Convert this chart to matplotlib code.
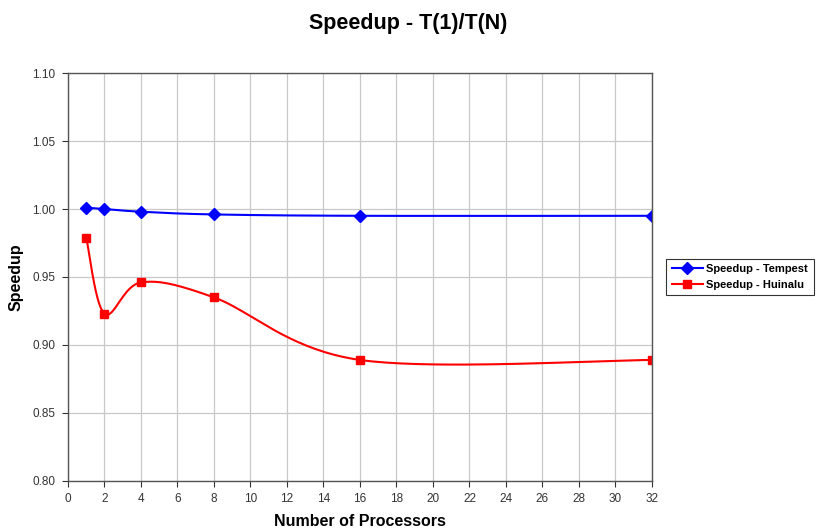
import numpy as np
import matplotlib
matplotlib.use("Agg")
import matplotlib.pyplot as plt

plt.rcParams["font.family"] = ["Liberation Sans", "DejaVu Sans"]

processors = [1, 2, 4, 8, 16, 32]
speedup_tempest = [1.001, 1.000, 0.998, 0.996, 0.995, 0.995]
speedup_huinalu = [0.979, 0.923, 0.946, 0.935, 0.889, 0.889]


def excel_smooth(xs, ys, n=40):
    # Excel-style smoothed line: cubic Bezier with 1/6 tangents
    xs = np.asarray(xs, float)
    ys = np.asarray(ys, float)
    pts = np.column_stack([xs, ys])
    out = [pts[0]]
    for i in range(len(pts) - 1):
        p0 = pts[i - 1] if i > 0 else pts[i]
        p1 = pts[i]
        p2 = pts[i + 1]
        p3 = pts[i + 2] if i + 2 < len(pts) else pts[i + 1]
        c1 = p1 + (p2 - p0) / 6
        c2 = p2 - (p3 - p1) / 6
        t = np.linspace(0, 1, n)[1:, None]
        seg = ((1 - t) ** 3) * p1 + 3 * ((1 - t) ** 2) * t * c1 \
            + 3 * (1 - t) * t ** 2 * c2 + t ** 3 * p2
        out.extend(seg)
    out = np.array(out)
    return out[:, 0], out[:, 1]


fig = plt.figure(figsize=(8.16, 5.31), dpi=100)
ax = fig.add_axes([0.0833, 0.0942, 0.7157, 0.7683])

for ys, color, marker, ms, label in [
    (speedup_tempest, "#0000ff", "D", 6, "Speedup - Tempest"),
    (speedup_huinalu, "#ff0000", "s", 6, "Speedup - Huinalu"),
]:
    sx, sy = excel_smooth(processors, ys)
    ax.plot(sx, sy, color=color, lw=1.5)
    ax.plot(processors, ys, ls="none", marker=marker, ms=ms, color=color)
    ax.plot([], [], color=color, lw=1.5, marker=marker, ms=ms, label=label)

ax.set_xlim(0, 32)
ax.set_ylim(0.80, 1.10)
ax.set_xticks(np.arange(0, 33, 2))
ax.set_yticks(np.arange(0.80, 1.101, 0.05))
ax.set_yticklabels([f"{v:.2f}" for v in np.arange(0.80, 1.101, 0.05)])
ax.grid(True, color="#c8c8c8", lw=0.9)
ax.set_axisbelow(True)
ax.tick_params(direction="out", length=4, labelsize=8.5, colors="#333333", pad=5)
for s in ax.spines.values():
    s.set_color("#555555")
    s.set_linewidth(1.0)

ax.set_xlabel("Number of Processors", fontsize=11.5, fontweight="bold", labelpad=6)
ax.set_ylabel("Speedup", fontsize=11.5, fontweight="bold", labelpad=6)
fig.suptitle("Speedup - T(1)/T(N)", fontsize=15.5, fontweight="bold", x=0.5, y=0.975)

leg = ax.legend(loc="center left", bbox_to_anchor=(1.015, 0.5),
                frameon=True, fancybox=False, edgecolor="black",
                prop={"weight": "bold", "size": 8}, handlelength=2.8,
                borderpad=0.5, labelspacing=0.5, handletextpad=0.3)
leg.get_frame().set_linewidth(0.8)

fig.savefig("out.png", dpi=100)
